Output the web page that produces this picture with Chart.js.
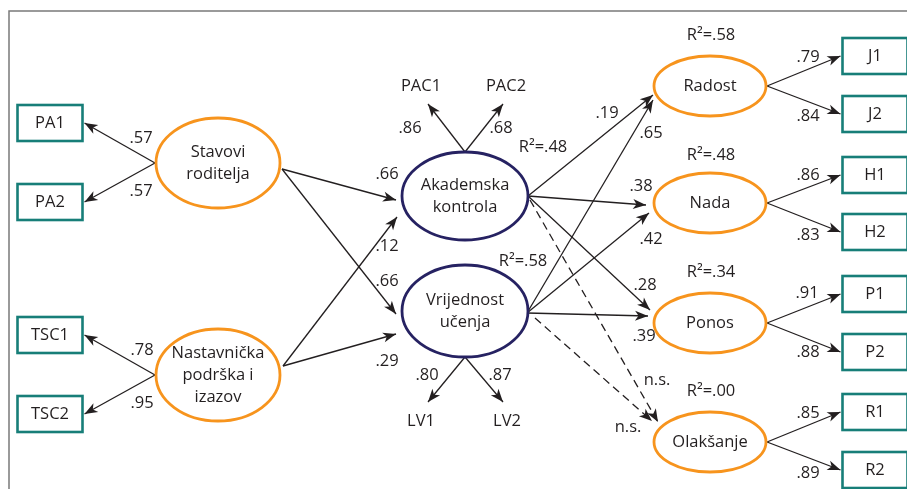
<!DOCTYPE html>
<html>
<head>
<meta charset="utf-8">
<script src="https://cdn.jsdelivr.net/npm/chart.js@4/dist/chart.umd.min.js"></script>
<style>
  html, body { margin: 0; padding: 0; background: #fff; }
  #wrap { width: 907px; height: 489px; position: relative; }
</style>
</head>
<body>
<div id="wrap"><canvas id="pathChart"></canvas></div>
<script>
// --- model values ---
const latentLabels = ['Stavovi\nroditelja', 'Nastavnička\npodrška i\nizazov', 'Akademska\nkontrola', 'Vrijednost\nučenja',
                      'Radost', 'Nada', 'Ponos', 'Olakšanje'];
const indicatorLabels = ['PA1', 'PA2', 'TSC1', 'TSC2', 'J1', 'J2', 'H1', 'H2', 'P1', 'P2', 'R1', 'R2'];
const indicatorFactor = [0, 0, 1, 1, 4, 4, 5, 5, 6, 6, 7, 7];
const indicatorLoadings = ['.57', '.57', '.78', '.95', '.79', '.84', '.86', '.83', '.91', '.88', '.85', '.89'];
const mediatorItems = ['PAC1', 'PAC2', 'LV1', 'LV2'];
const mediatorItemFactor = [2, 2, 3, 3];
const mediatorLoadings = ['.86', '.68', '.80', '.87'];
const pathFrom = [0, 0, 1, 1, 2, 2, 2, 2, 3, 3, 3, 3];
const pathTo = [2, 3, 2, 3, 4, 5, 6, 7, 4, 5, 6, 7];
const pathCoefs = ['.66', '.66', '.12', '.29', '.19', '.38', '.28', 'n.s.', '.65', '.42', '.39', 'n.s.'];
const r2Factor = [2, 3, 4, 5, 6, 7];
const r2Values = ['.48', '.58', '.58', '.48', '.34', '.00'];

// --- layout (diagram units, same range as the axes) ---
const latentPos = [[218, 163], [218, 375], [465, 196], [465, 311], [710, 86], [710, 203], [710, 323], [710, 442]];
const latentRadii = [[62, 45], [62, 46], [63, 44], [63, 46], [56, 30], [56, 30], [56, 30], [56, 30]];
const indicatorPos = [[50, 123], [50, 202], [50, 335], [50, 414], [875, 56], [875, 114], [875, 175], [875, 232],
                      [875, 294], [875, 352], [875, 412], [875, 470]];
const indicatorLabelPos = [[141, 138], [141, 191], [142, 350], [142, 403], [808, 57], [808, 116], [808, 175], [808, 235],
                           [807, 293], [808, 352], [808, 413], [808, 473]];
const mediatorItemPos = [[421, 86], [506, 86], [421, 421], [507, 421]];
const mediatorArrowEnd = [[428, 104], [503, 104], [428, 402], [503, 402]];
const mediatorLabelPos = [[410, 128], [501, 128], [427, 375], [500, 375]];
const pathStart = [[282, 169], [282, 169], [283, 366], [283, 366], [528, 196], [528, 196], [528, 196], [530, 200],
                   [527, 313], [527, 313], [527, 313], [535, 318]];
const pathEnd = [[396, 200], [396, 314], [397, 217], [396, 334], [653, 95], [646, 205], [650, 310], [658, 422],
                 [653, 100], [649, 213], [648, 316], [652, 421]];
const pathLabelPos = [[387, 174], [387, 281], [387, 246], [387, 361], [607, 113], [641, 186], [645, 285], [657, 380],
                      [651, 133], [651, 239], [644, 336], [628, 427]];
const r2LabelPos = [[543, 147], [523, 261], [711, 35], [711, 155], [711, 272], [711, 391]];

const BOX_W = 65, BOX_H = 36;
const ORANGE = '#f7941d', NAVY = '#262262', TEAL = '#177e78', INK = '#231f20';
const FONT = '16.5px "Open Sans", "Noto Sans", sans-serif';

// build one small line dataset per arrow
const datasets = [];
function addArrow(a, b, dashed) {
    datasets.push({
        data: [{ x: a[0], y: a[1] }, { x: b[0], y: b[1] }],
        showLine: true,
        borderColor: INK,
        borderWidth: 1.3,
        borderDash: dashed ? [8, 5] : [],
        pointRadius: 0,
        fill: false
    });
}

indicatorLabels.forEach((name, i) => {
    const f = indicatorFactor[i];
    const [cx, cy] = latentPos[f];
    const [rx] = latentRadii[f];
    const [bx, by] = indicatorPos[i];
    const left = bx < cx;
    const start = [left ? cx - rx - 1 : cx + rx + 1, cy];
    const end = [left ? bx + BOX_W / 2 + 2 : bx - BOX_W / 2 - 2, by];
    addArrow(start, end, false);
});

mediatorItems.forEach((name, i) => {
    const f = mediatorItemFactor[i];
    const [cx, cy] = latentPos[f];
    const [, ry] = latentRadii[f];
    const up = mediatorItemPos[i][1] < cy;
    addArrow([cx, up ? cy - ry : cy + ry], mediatorArrowEnd[i], false);
});

pathFrom.forEach((f, i) => {
    addArrow(pathStart[i], pathEnd[i], pathCoefs[i] === 'n.s.');
});

const diagramPlugin = {
    id: 'diagram',
    afterDatasetsDraw(chart) {
        const ctx = chart.ctx;
        const sx = chart.scales.x, sy = chart.scales.y;
        const px = v => sx.getPixelForValue(v);
        const py = v => sy.getPixelForValue(v);

        ctx.save();

        // frame
        ctx.strokeStyle = '#7a7a7a';
        ctx.lineWidth = 1.5;
        ctx.beginPath();
        ctx.moveTo(px(907), py(11));
        ctx.lineTo(px(9), py(11));
        ctx.lineTo(px(9), py(489));
        ctx.stroke();

        // arrowheads
        ctx.fillStyle = INK;
        chart.data.datasets.forEach((ds, i) => {
            const pts = chart.getDatasetMeta(i).data;
            const a = pts[0], b = pts[1];
            const ang = Math.atan2(b.y - a.y, b.x - a.x);
            const L = 13, W = 5, N = 3.5;
            ctx.save();
            ctx.translate(b.x, b.y);
            ctx.rotate(ang);
            ctx.beginPath();
            ctx.moveTo(0, 0);
            ctx.lineTo(-L, -W);
            ctx.lineTo(-L + N, 0);
            ctx.lineTo(-L, W);
            ctx.closePath();
            ctx.fill();
            ctx.restore();
        });

        // latent ellipses
        latentLabels.forEach((label, i) => {
            const [cx, cy] = latentPos[i];
            const [rx, ry] = latentRadii[i];
            ctx.beginPath();
            ctx.ellipse(px(cx), py(cy), px(cx + rx) - px(cx), Math.abs(py(cy + ry) - py(cy)), 0, 0, Math.PI * 2);
            ctx.fillStyle = '#fff';
            ctx.fill();
            ctx.lineWidth = 2.8;
            ctx.strokeStyle = i === 2 || i === 3 ? NAVY : ORANGE;
            ctx.stroke();

            ctx.fillStyle = INK;
            ctx.font = FONT;
            ctx.textAlign = 'center';
            ctx.textBaseline = 'middle';
            const lines = label.split('\n');
            const lh = 22;
            lines.forEach((ln, k) => {
                ctx.fillText(ln, px(cx), py(cy) + (k - (lines.length - 1) / 2) * lh);
            });
        });

        // indicator boxes
        indicatorLabels.forEach((label, i) => {
            const [bx, by] = indicatorPos[i];
            const x0 = px(bx - BOX_W / 2), y0 = py(by - BOX_H / 2);
            const w = px(bx + BOX_W / 2) - x0, h = py(by + BOX_H / 2) - y0;
            ctx.lineWidth = 2.6;
            ctx.strokeStyle = TEAL;
            ctx.strokeRect(x0, y0, w, h);
            ctx.fillStyle = INK;
            ctx.font = FONT;
            ctx.textAlign = 'center';
            ctx.textBaseline = 'middle';
            ctx.fillText(label, px(bx), py(by));
        });

        // text labels
        ctx.fillStyle = INK;
        ctx.font = FONT;
        ctx.textAlign = 'center';
        ctx.textBaseline = 'middle';
        const put = (t, p) => ctx.fillText(t, px(p[0]), py(p[1]));
        indicatorLoadings.forEach((t, i) => put(t, indicatorLabelPos[i]));
        mediatorItems.forEach((t, i) => put(t, mediatorItemPos[i]));
        mediatorLoadings.forEach((t, i) => put(t, mediatorLabelPos[i]));
        pathCoefs.forEach((t, i) => put(t, pathLabelPos[i]));
        r2Values.forEach((t, i) => put('R²=' + t, r2LabelPos[i]));

        ctx.restore();
    }
};

new Chart(document.getElementById('pathChart'), {
    type: 'scatter',
    data: { datasets },
    options: {
        responsive: true,
        maintainAspectRatio: false,
        animation: false,
        layout: { padding: 0 },
        plugins: { legend: { display: false }, tooltip: { enabled: false } },
        scales: {
            x: { type: 'linear', min: 0, max: 907, display: false },
            y: { type: 'linear', min: 0, max: 489, reverse: true, display: false }
        }
    },
    plugins: [diagramPlugin]
});
</script>
</body>
</html>
